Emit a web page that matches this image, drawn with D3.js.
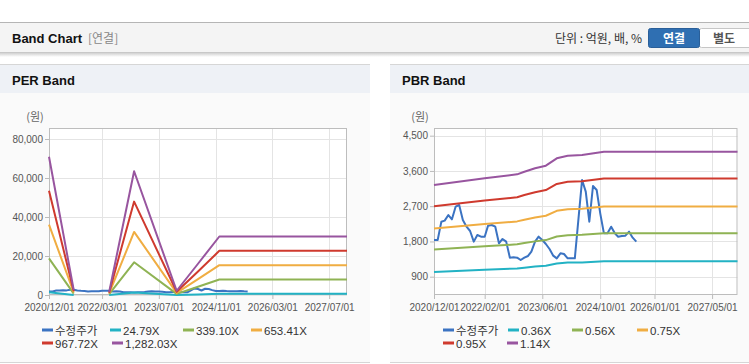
<!DOCTYPE html>
<html>
<head>
<meta charset="utf-8">
<script src="https://cdn.jsdelivr.net/npm/d3@7"></script>
<style>
  body { margin: 0; background: #fff; }
  svg { display: block; }
</style>
</head>
<body>
<svg id="page" width="749" height="364"></svg>
<script>
// ---- data ----

// 수정주가, monthly from 2020/12
const priceStart = "2020-12-01";
const price = [
  1837, 1837, 2305, 2331, 2475, 2365, 2688, 2731, 2348, 2177, 2067, 1795,
  1965, 1922, 1922, 2203, 2220, 2177, 1752, 1863, 1795, 1386, 1394, 1386,
  1326, 1386, 1429, 1539, 1795, 1922, 1837, 1735, 1607, 1437, 1369, 1497,
  1480, 1369, 1369, 1369, 2390, 3369, 3071, 2305, 3216, 3114, 2518, 2007,
  2007, 2177, 2007, 1922, 1939, 1948, 2050, 1897, 1795
];

// PER band (null = no band, negative earnings)
const perDates = ["2020-12-01", "2021-07-01", "2021-12-01", "2022-05-01", "2022-12-01",
  "2023-12-01", "2024-06-01", "2024-12-01", "2027-12-01"];
const per24 = [1371, 50, null, 30, 1227, 42, 310, 580, 580];
const per339 = [18752, 678, null, 407, 16785, 576, 4239, 7935, 7935];
const per653 = [36134, 1307, null, 784, 32344, 1111, 8168, 15290, 15290];
const per967 = [53515, 1935, null, 1161, 47902, 1645, 12097, 22645, 22645];
const per1282 = [70896, 2564, null, 1538, 63460, 2179, 16025, 29999, 29999];
const perNames = ["수정주가", "24.79X", "339.10X", "653.41X", "967.72X", "1,282.03X"];
const perXTicks = ["2020/12/01", "2022/03/01", "2023/07/01", "2024/11/01", "2026/03/01", "2027/07/01"];
const perYTicks = [0, 20000, 40000, 60000, 80000];

// PBR band
const pbrDates = ["2020-12-01", "2022-02-01", "2022-11-01", "2023-01-01", "2023-04-01",
  "2023-07-01", "2023-10-01", "2024-01-01", "2024-05-01", "2024-11-01", "2027-12-01"];
const pbr036 = [1023, 1077, 1110, 1131, 1158, 1179, 1239, 1260, 1265, 1292, 1292];
const pbr056 = [1592, 1676, 1726, 1759, 1802, 1834, 1927, 1959, 1968, 2010, 2010];
const pbr075 = [2132, 2245, 2312, 2356, 2413, 2456, 2581, 2624, 2636, 2692, 2692];
const pbr095 = [2701, 2843, 2928, 2984, 3056, 3111, 3269, 3324, 3339, 3410, 3410];
const pbr114 = [3241, 3412, 3513, 3581, 3667, 3734, 3923, 3989, 4007, 4091, 4091];
const pbrNames = ["수정주가", "0.36X", "0.56X", "0.75X", "0.95X", "1.14X"];
const pbrXTicks = ["2020/12/01", "2022/02/01", "2023/06/01", "2024/10/01", "2026/01/01", "2027/05/01"];
const pbrYTicks = [900, 1800, 2700, 3600, 4500];

const colors = ["#3b73c2", "#22b2c4", "#8fb354", "#f0ad42", "#cf3a2e", "#98559f"];
const xDomain = ["2020-12-01", "2027-12-01"];

// ---- helpers ----
const parse = d3.timeParse("%Y-%m-%d");
const parseTick = d3.timeParse("%Y/%m/%d");
const fmt = d3.format(",");
const FONT = "'Liberation Sans', Arial, 'Noto Sans CJK KR', sans-serif";
const KFONT = "'Noto Sans CJK KR', 'Liberation Sans', sans-serif";

const priceSeries = price.map((v, i) => ({ date: d3.timeMonth.offset(parse(priceStart), i), v: v }));

function bandSeries(dates, values) {
  return values.map((v, i) => ({ date: parse(dates[i]), v: v }));
}

var svg = d3.select("#page");

// ---- top header bar ----
var shadow = svg.append("defs").append("linearGradient")
  .attr("id", "shadow").attr("x1", 0).attr("y1", 0).attr("x2", 0).attr("y2", 1);
shadow.append("stop").attr("offset", 0).attr("stop-color", "#000").attr("stop-opacity", 0.18);
shadow.append("stop").attr("offset", 1).attr("stop-color", "#000").attr("stop-opacity", 0);

svg.append("rect").attr("x", 0).attr("y", 53).attr("width", 749).attr("height", 4).attr("fill", "url(#shadow)");
svg.append("rect").attr("x", 0).attr("y", 22).attr("width", 749).attr("height", 31).attr("fill", "#f4f4f4");
svg.append("line").attr("x1", 0).attr("x2", 749).attr("y1", 22.5).attr("y2", 22.5).attr("stroke", "#b5b5b5");
svg.append("line").attr("x1", 0).attr("x2", 749).attr("y1", 52.5).attr("y2", 52.5).attr("stroke", "#c8c8c8");

svg.append("text").attr("x", 12).attr("y", 43).text("Band Chart")
  .style("font-family", FONT).style("font-weight", "bold").style("font-size", "13px").attr("fill", "#111");
svg.append("text").attr("x", 88).attr("y", 43).text("[연결]")
  .style("font-family", KFONT).style("font-size", "12px").attr("fill", "#888");

svg.append("text").attr("x", 642).attr("y", 43).attr("text-anchor", "end").text("단위 : 억원, 배, %")
  .style("font-family", KFONT).style("font-size", "12px").attr("fill", "#333");

// 연결 / 별도 toggle
svg.append("rect").attr("x", 699.5).attr("y", 28.5).attr("width", 52).attr("height", 19).attr("rx", 2)
  .attr("fill", "#fff").attr("stroke", "#c6c6c6");
svg.append("rect").attr("x", 648.5).attr("y", 28.5).attr("width", 51).attr("height", 19).attr("rx", 2)
  .attr("fill", "#2f6fb2").attr("stroke", "#2a5f99");
svg.append("text").attr("x", 674).attr("y", 43).attr("text-anchor", "middle").text("연결")
  .style("font-family", KFONT).style("font-weight", "bold").style("font-size", "12px").attr("fill", "#fff");
svg.append("text").attr("x", 724).attr("y", 43).attr("text-anchor", "middle").text("별도")
  .style("font-family", KFONT).style("font-weight", "bold").style("font-size", "12px").attr("fill", "#555");

// ---- one band chart panel ----
function drawPanel(opt) {
  var g = svg.append("g");

  // panel backgrounds
  g.append("rect").attr("x", opt.px).attr("y", 64).attr("width", opt.pw).attr("height", 298).attr("fill", "#fafafa");
  g.append("rect").attr("x", opt.px).attr("y", 64).attr("width", opt.pw).attr("height", 29).attr("fill", "#eef1f6");
  g.append("line").attr("x1", opt.px).attr("x2", opt.px + opt.pw).attr("y1", 64.5).attr("y2", 64.5).attr("stroke", "#d6d6d6");
  g.append("line").attr("x1", opt.px).attr("x2", opt.px + opt.pw).attr("y1", 362.5).attr("y2", 362.5).attr("stroke", "#d6d6d6");
  g.append("text").attr("x", opt.px + 12).attr("y", 85).text(opt.title)
    .style("font-family", FONT).style("font-weight", "bold").style("font-size", "13px").attr("fill", "#111");

  g.append("text").attr("x", opt.x0 - 14).attr("y", 121).attr("text-anchor", "middle").text("(원)")
    .style("font-family", KFONT).style("font-size", "11px").attr("fill", "#666");

  const x = d3.scaleTime().domain(xDomain.map(parse)).range([opt.x0, opt.x1]);
  const y = d3.scaleLinear().domain(opt.yDomain).range(opt.yRange);
  const top = 128, bottom = 295;

  g.append("rect").attr("x", opt.x0).attr("y", top).attr("width", opt.x1 - opt.x0).attr("height", bottom - top)
    .attr("fill", "#fff");

  // grid
  const xt = opt.xTicks.map(parseTick);
  g.append("g").selectAll("line").data(xt).join("line")
    .attr("x1", (d) => Math.round(x(d)) + 0.5).attr("x2", (d) => Math.round(x(d)) + 0.5)
    .attr("y1", top).attr("y2", bottom).attr("stroke", "#e4e4e4");
  g.append("g").selectAll("line").data(opt.yTicks).join("line")
    .attr("x1", opt.x0).attr("x2", opt.x1)
    .attr("y1", (d) => Math.round(y(d)) + 0.5).attr("y2", (d) => Math.round(y(d)) + 0.5).attr("stroke", "#e4e4e4");

  // axes
  var xAxis = g.append("g").attr("transform", "translate(0," + bottom + ")")
    .call(d3.axisBottom(x).tickValues(xt).tickFormat(d3.timeFormat("%Y/%m/%d")).tickSize(4).tickSizeOuter(0));
  xAxis.select(".domain").remove();
  xAxis.selectAll("line").attr("stroke", "#bbb");
  xAxis.selectAll("text").attr("dy", "0.9em").attr("fill", "#555")
    .style("font-family", FONT).style("font-size", "10px");

  var yAxis = g.append("g").attr("transform", "translate(" + opt.x0 + ",0)")
    .call(d3.axisLeft(y).tickValues(opt.yTicks).tickFormat(fmt).tickSize(4).tickSizeOuter(0));
  yAxis.select(".domain").remove();
  yAxis.selectAll("line").attr("stroke", "#bbb");
  yAxis.selectAll("text").attr("x", -6).attr("fill", "#555")
    .style("font-family", FONT).style("font-size", "10px");

  g.append("rect").attr("x", opt.x0 + 0.5).attr("y", top + 0.5).attr("width", opt.x1 - opt.x0 - 1)
    .attr("height", bottom - top - 1).attr("fill", "none").attr("stroke", "#bdbdbd");

  // lines
  const line = d3.line().defined((d) => d.v != null).x((d) => x(d.date)).y((d) => y(d.v));
  const series = [priceSeries].concat(opt.bands.map((b) => bandSeries(opt.bandDates, b)));
  g.append("g").selectAll("path").data(series).join("path")
    .attr("d", line)
    .attr("fill", "none")
    .attr("stroke", (d, i) => colors[i])
    .attr("stroke-width", 2)
    .attr("stroke-linejoin", "round");

  // legend
  var legend = g.append("g").selectAll("g").data(opt.names).join("g")
    .attr("transform", (d, i) => "translate(" + opt.legendPos[i][0] + "," + opt.legendPos[i][1] + ")");
  legend.append("rect").attr("x", 0).attr("y", -1.5).attr("width", 11).attr("height", 3)
    .attr("fill", (d, i) => colors[i]);
  legend.append("text").attr("x", 13).attr("y", 4.5).text((d) => d)
    .style("font-family", FONT).style("font-size", "11.5px").attr("fill", "#333");
}

drawPanel({
  title: "PER Band",
  px: 0, pw: 370,
  x0: 49, x1: 347,
  yDomain: [0, 80000], yRange: [295, 139],
  xTicks: perXTicks, yTicks: perYTicks,
  bandDates: perDates,
  bands: [per24, per339, per653, per967, per1282],
  names: perNames,
  legendPos: [[42, 330], [110, 330], [183, 330], [251, 330], [42, 343], [112, 343]]
});

drawPanel({
  title: "PBR Band",
  px: 390, pw: 359,
  x0: 434, x1: 737.5,
  yDomain: [900, 4500], yRange: [276.7, 135.7],
  xTicks: pbrXTicks, yTicks: pbrYTicks,
  bandDates: pbrDates,
  bands: [pbr036, pbr056, pbr075, pbr095, pbr114],
  names: pbrNames,
  legendPos: [[443, 330], [508, 330], [572, 330], [637, 330], [443, 343], [507, 343]]
});
</script>
</body>
</html>
